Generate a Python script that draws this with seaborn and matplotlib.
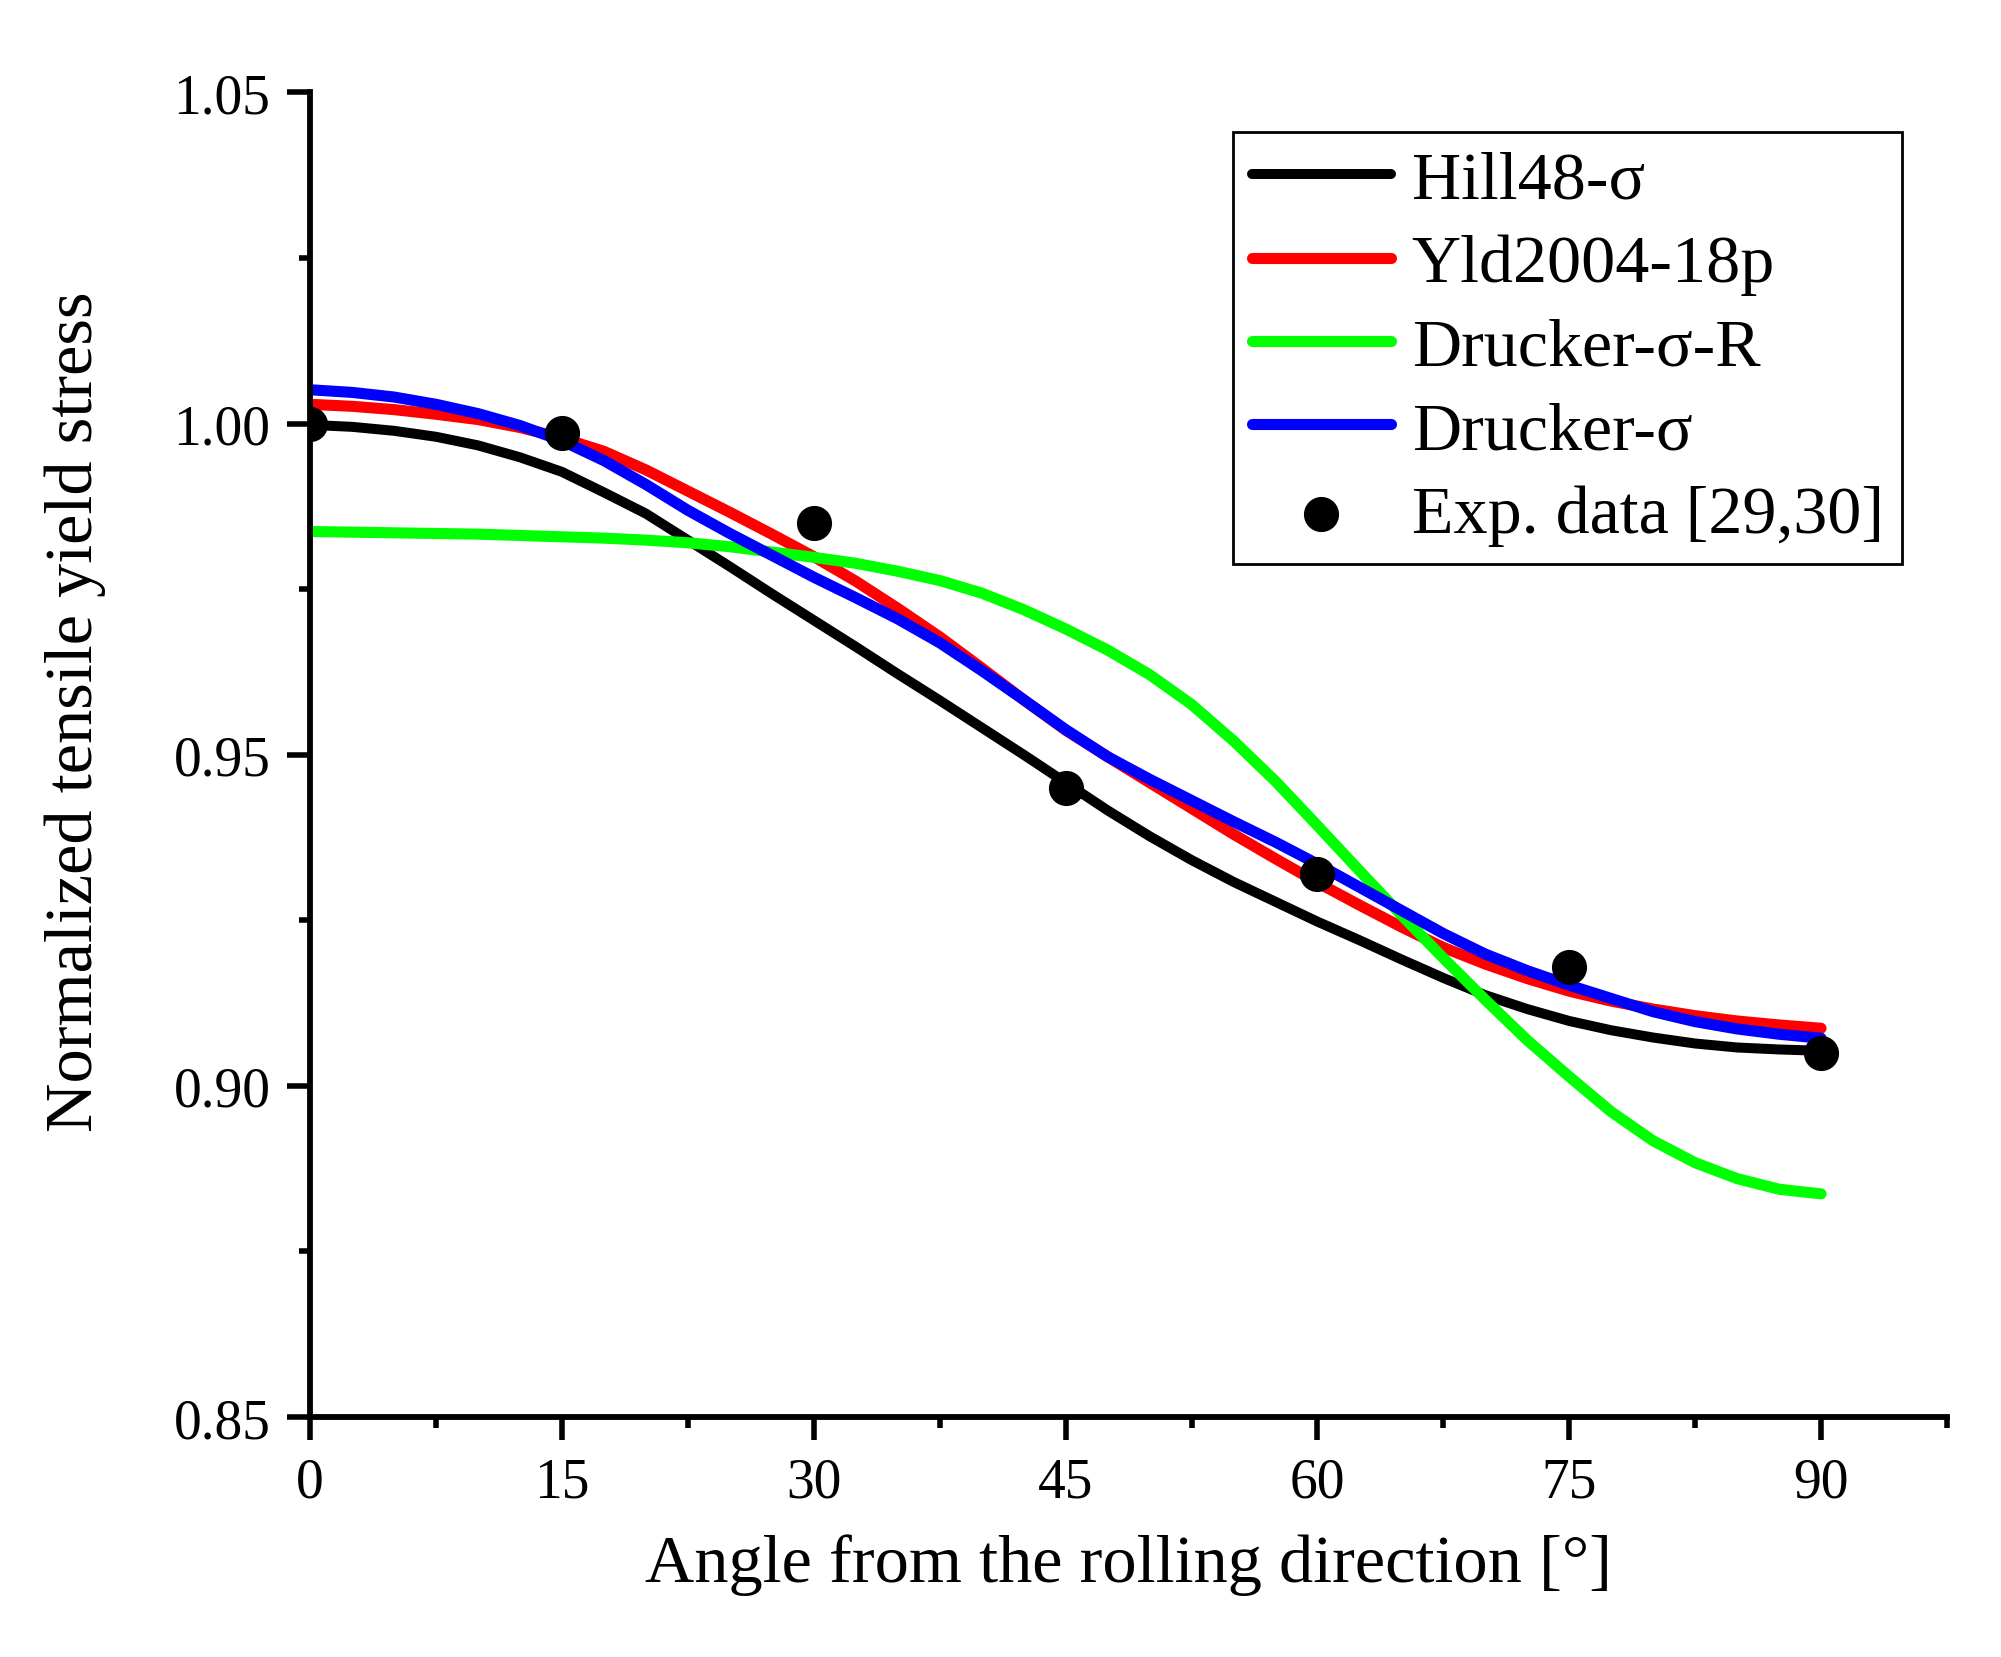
import numpy as np
import pandas as pd
import seaborn as sns
import matplotlib.pyplot as plt
from matplotlib.ticker import MultipleLocator, FormatStrFormatter

# values (every 2.5 degrees)
angles = [0, 2.5, 5, 7.5, 10, 12.5, 15, 17.5, 20, 22.5, 25, 27.5, 30, 32.5, 35, 37.5,
          40, 42.5, 45, 47.5, 50, 52.5, 55, 57.5, 60, 62.5, 65, 67.5, 70, 72.5, 75,
          77.5, 80, 82.5, 85, 87.5, 90]
hill48 = [0.9998, 0.9995, 0.9989, 0.9980, 0.9967, 0.9949, 0.9927, 0.9896, 0.9864, 0.9824,
          0.9784, 0.9743, 0.9703, 0.9663, 0.9622, 0.9582, 0.9541, 0.9500, 0.9458, 0.9416,
          0.9377, 0.9341, 0.9308, 0.9278, 0.9248, 0.9220, 0.9191, 0.9163, 0.9137, 0.9116,
          0.9098, 0.9084, 0.9073, 0.9064, 0.9058, 0.9055, 0.9053]
yld2004 = [1.0029, 1.0026, 1.0021, 1.0014, 1.0006, 0.9994, 0.9978, 0.9958, 0.9930, 0.9898,
           0.9866, 0.9833, 0.9799, 0.9762, 0.9721, 0.9678, 0.9631, 0.9583, 0.9537, 0.9497,
           0.9458, 0.9419, 0.9380, 0.9343, 0.9307, 0.9273, 0.9240, 0.9209, 0.9184, 0.9162,
           0.9143, 0.9128, 0.9116, 0.9106, 0.9098, 0.9092, 0.9087]
drucker_r = [0.9837, 0.9836, 0.9835, 0.9834, 0.9833, 0.9831, 0.9829, 0.9827, 0.9824, 0.9820,
             0.9814, 0.9806, 0.9798, 0.9789, 0.9777, 0.9763, 0.9744, 0.9719, 0.9690, 0.9658,
             0.9621, 0.9576, 0.9521, 0.9460, 0.9393, 0.9325, 0.9258, 0.9193, 0.9130, 0.9069,
             0.9014, 0.8961, 0.8917, 0.8884, 0.8860, 0.8844, 0.8837]
drucker = [1.0051, 1.0047, 1.0040, 1.0029, 1.0015, 0.9997, 0.9974, 0.9944, 0.9908, 0.9869,
           0.9834, 0.9801, 0.9768, 0.9737, 0.9705, 0.9669, 0.9627, 0.9583, 0.9538, 0.9497,
           0.9463, 0.9431, 0.9399, 0.9368, 0.9335, 0.9300, 0.9265, 0.9230, 0.9199, 0.9174,
           0.9152, 0.9132, 0.9112, 0.9097, 0.9086, 0.9078, 0.9072]

exp_angles = [0, 15, 30, 45, 60, 75, 90]
exp_stress = [1.000, 0.9985, 0.985, 0.945, 0.932, 0.918, 0.905]

models = ['Hill48-σ', 'Yld2004-18p', 'Drucker-σ-R', 'Drucker-σ']
colors = ['#000000', '#ff0000', '#00ff00', '#0000ff']
widths = [3.6, 4.0, 4.0, 4.0]
curves = [hill48, yld2004, drucker_r, drucker]

sns.set_style("ticks")
plt.rcParams['font.family'] = ['Liberation Serif', 'DejaVu Serif']
plt.rcParams['text.color'] = 'black'
plt.rcParams['axes.labelcolor'] = 'black'

fig = plt.figure(figsize=(10.005, 8.29), dpi=200)
ax = fig.add_axes([0.155, 0.1447, 0.818, 0.799])

for name, col, lw, vals in zip(models, colors, widths, curves):
    sns.lineplot(x=angles, y=vals, color=col, linewidth=lw, label=name, ax=ax)

sns.scatterplot(x=exp_angles, y=exp_stress, color='black', s=160, linewidth=0,
                label='Exp. data [29,30]', zorder=5, ax=ax)

ax.set_xlim(0, 97.5)
ax.set_ylim(0.85, 1.05)
ax.xaxis.set_major_locator(MultipleLocator(15))
ax.xaxis.set_minor_locator(MultipleLocator(7.5))
ax.yaxis.set_major_locator(MultipleLocator(0.05))
ax.yaxis.set_minor_locator(MultipleLocator(0.025))
ax.yaxis.set_major_formatter(FormatStrFormatter('%.2f'))

sns.despine(ax=ax)
for s in ['left', 'bottom']:
    ax.spines[s].set_linewidth(2.1)
    ax.spines[s].set_color('black')

ax.tick_params(which='major', direction='out', length=8.3, width=2, labelsize=20,
               colors='black', pad=6)
ax.tick_params(which='minor', direction='out', length=4, width=2, colors='black')

ax.set_xlabel('Angle from the rolling direction [°]', fontsize=24.6, labelpad=9)
ax.set_ylabel('Normalized tensile yield stress', fontsize=24.6)
ax.yaxis.set_label_coords(-0.125, 0.533)

leg = ax.legend(loc='upper right', bbox_to_anchor=(0.9505, 0.9198),
                bbox_transform=fig.transFigure, borderaxespad=0, fontsize=24.5,
                frameon=True, fancybox=False, edgecolor='black', framealpha=1,
                handlelength=2.05, handletextpad=0.3, labelspacing=0.32, borderpad=0.27)
leg.get_frame().set_linewidth(1.0)

fig.savefig('out.png', dpi=200)
